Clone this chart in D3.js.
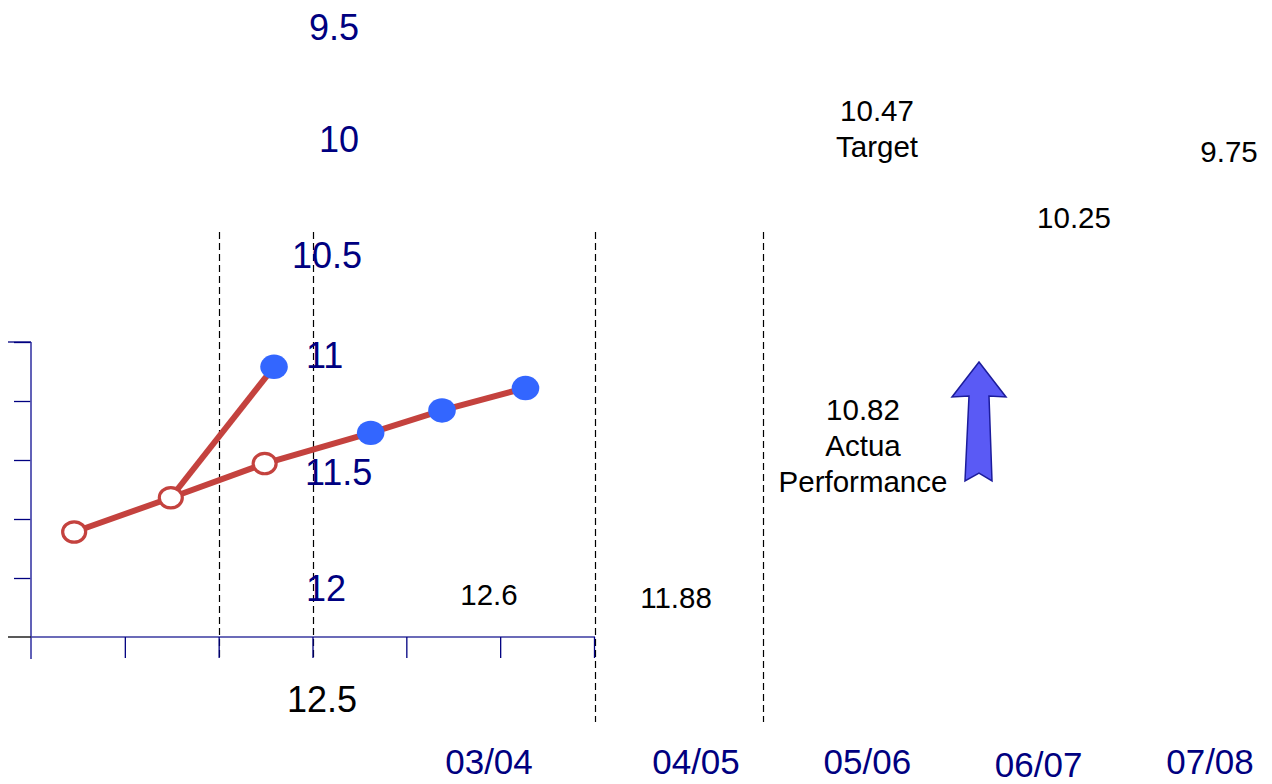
<!DOCTYPE html>
<html><head><meta charset="utf-8">
<script src="https://cdn.jsdelivr.net/npm/d3@7/dist/d3.min.js"></script>
<style>
html,body{margin:0;padding:0;background:#fff;}
svg{display:block;font-family:"Liberation Sans",Arial,sans-serif;}
</style>
</head><body>
<svg id="chart" width="1272" height="784"></svg>
<script>
// ---- data ----
const periods = ["03/04","04/05","05/06","06/07","07/08"];
const scaleLabels = ["9.5","10","10.5","11","11.5","12","12.5"];
const scaleValues = [9.5,10,10.5,11,11.5,12,12.5];
const yTicks = [12.5,12,11.5,11,10.5,10];
const xTicks = [0,1,2,3,4,5,6];
const trendX = [0.46,1.49,2.49,3.62,4.38,5.27];
const trendY = [11.61,11.32,11.03,10.77,10.58,10.39];
const trendFilled = [false,false,false,true,true,true];
const branchX = [1.49,2.59];
const branchY = [11.32,10.21];
const annotationText = ["12.6","11.88","10.82\nActua\nPerformance","10.47\nTarget","10.25","9.75"];

// ---- layout ----
const svg = d3.select("#chart");
const navy = "#000080", red = "#c4423e", blue = "#3366ff";
const x = d3.scaleLinear().domain([0,6]).range([31,594]);
const y = d3.scaleLinear().domain([12.5,10]).range([637,342]);
const labelY = d3.scaleLinear().domain([9.5,12.5]).range([40,712]);
const periodX = d3.scaleLinear().domain([0,1,4]).range([489,696,1210]);
const px = v => Math.round(v) + 0.5;

// dashed dividers
const dividers = [
  {x:x(2), y1:232, y2:658},
  {x:x(3), y1:232, y2:658},
  {x:595, y1:232, y2:722},
  {x:763, y1:232, y2:722}
];
svg.selectAll("line.div").data(dividers).join("line")
  .attr("x1",d=>px(d.x)).attr("x2",d=>px(d.x)).attr("y1",d=>d.y1).attr("y2",d=>d.y2)
  .attr("stroke","#000").attr("stroke-width",1.2).attr("stroke-dasharray","7,4");

// axes
const gy = svg.append("g").attr("transform",`translate(${x(0)},0)`)
  .call(d3.axisLeft(y).tickValues(yTicks.slice(1)).tickSize(17).tickSizeOuter(0).tickFormat(""));
gy.select(".domain").remove();
gy.selectAll(".tick line").attr("stroke",navy).attr("stroke-width",1.3);
svg.append("line").attr("x1",x(0)).attr("x2",x(0)).attr("y1",y(10)).attr("y2",659)
  .attr("stroke","#5050b0").attr("stroke-width",1.8);
svg.append("line").attr("x1",8).attr("x2",x(0)).attr("y1",y(10)).attr("y2",y(10))
  .attr("stroke",navy).attr("stroke-width",1.3);
svg.append("line").attr("x1",8).attr("x2",x(0)).attr("y1",y(12.5)).attr("y2",y(12.5))
  .attr("stroke","#222").attr("stroke-width",1.5);

const gx = svg.append("g").attr("transform",`translate(0,${y(12.5)})`)
  .call(d3.axisBottom(x).tickValues(xTicks.slice(1)).tickSize(21).tickSizeOuter(0).tickFormat(""));
gx.select(".domain").attr("stroke","#3a3aa0").attr("stroke-width",1.5).attr("d",`M${x(0)},0H${x(6)+1}`);
gx.selectAll(".tick line").attr("stroke",navy).attr("stroke-width",1.3);

// lines
const lineGen = d3.line().x(d=>x(d[0])).y(d=>y(d[1]));
const trend = trendX.map((v,i)=>[v,trendY[i]]);
const branch = branchX.map((v,i)=>[v,branchY[i]]);
svg.append("path").attr("d",lineGen(branch)).attr("fill","none").attr("stroke",red).attr("stroke-width",6);
svg.append("path").attr("d",lineGen(trend)).attr("fill","none").attr("stroke",red).attr("stroke-width",6);

// markers
const pts = trend.map((d,i)=>({x:d[0],y:d[1],filled:trendFilled[i]}));
pts.push({x:branch[1][0],y:branch[1][1],filled:true});
svg.selectAll("ellipse.open").data(pts.filter(d=>!d.filled)).join("ellipse")
  .attr("cx",d=>x(d.x)).attr("cy",d=>y(d.y)).attr("rx",11.5).attr("ry",10.2)
  .attr("fill","#fff").attr("stroke",red).attr("stroke-width",3.2);
svg.selectAll("ellipse.fill").data(pts.filter(d=>d.filled)).join("ellipse")
  .attr("cx",d=>x(d.x)).attr("cy",d=>y(d.y)).attr("rx",13.8).attr("ry",12.2)
  .attr("fill",blue);

// scale-like labels
const labelAnchor = ["end","end","end","start","start","start","middle"];
const labelX = [359,359,362,306,305,306,322];
svg.selectAll("text.sl").data(scaleLabels).join("text")
  .attr("x",(d,i)=>labelX[i]).attr("y",(d,i)=>labelY(scaleValues[i]) + [0,0,4,-8,-3,1,0][i])
  .attr("text-anchor",(d,i)=>labelAnchor[i])
  .attr("font-size",36).attr("fill",(d,i)=>i===6?"#000":navy).text(d=>d);

// period labels
svg.selectAll("text.per").data(periods).join("text")
  .attr("x",(d,i)=>periodX(i)).attr("y",(d,i)=>i===3?777:774)
  .attr("text-anchor","middle").attr("font-size",35).attr("fill",navy).text(d=>d);

// annotations
const annPos = [
  {x:489,y:605},{x:676,y:608},{x:863,y:420},{x:877,y:121},{x:1074,y:228},{x:1229,y:162}
];
annotationText.forEach((t,i)=>{
  const lines = t.split("\n");
  const tx = svg.append("text").attr("x",annPos[i].x).attr("y",annPos[i].y)
    .attr("text-anchor","middle").attr("font-size",29.5).attr("fill","#000");
  lines.forEach((l,j)=>tx.append("tspan").attr("x",annPos[i].x).attr("dy",j===0?0:36).text(l));
});

// arrow
const arrow = [[979,362],[1006,397],[989,396],[992,481],[979,473],[965,481],[969,396],[952,397]];
svg.append("path").attr("d",d3.line()(arrow)+"Z")
  .attr("fill","#5a5af5").attr("stroke","#1c1c9c").attr("stroke-width",1.5);
</script>
</body></html>
